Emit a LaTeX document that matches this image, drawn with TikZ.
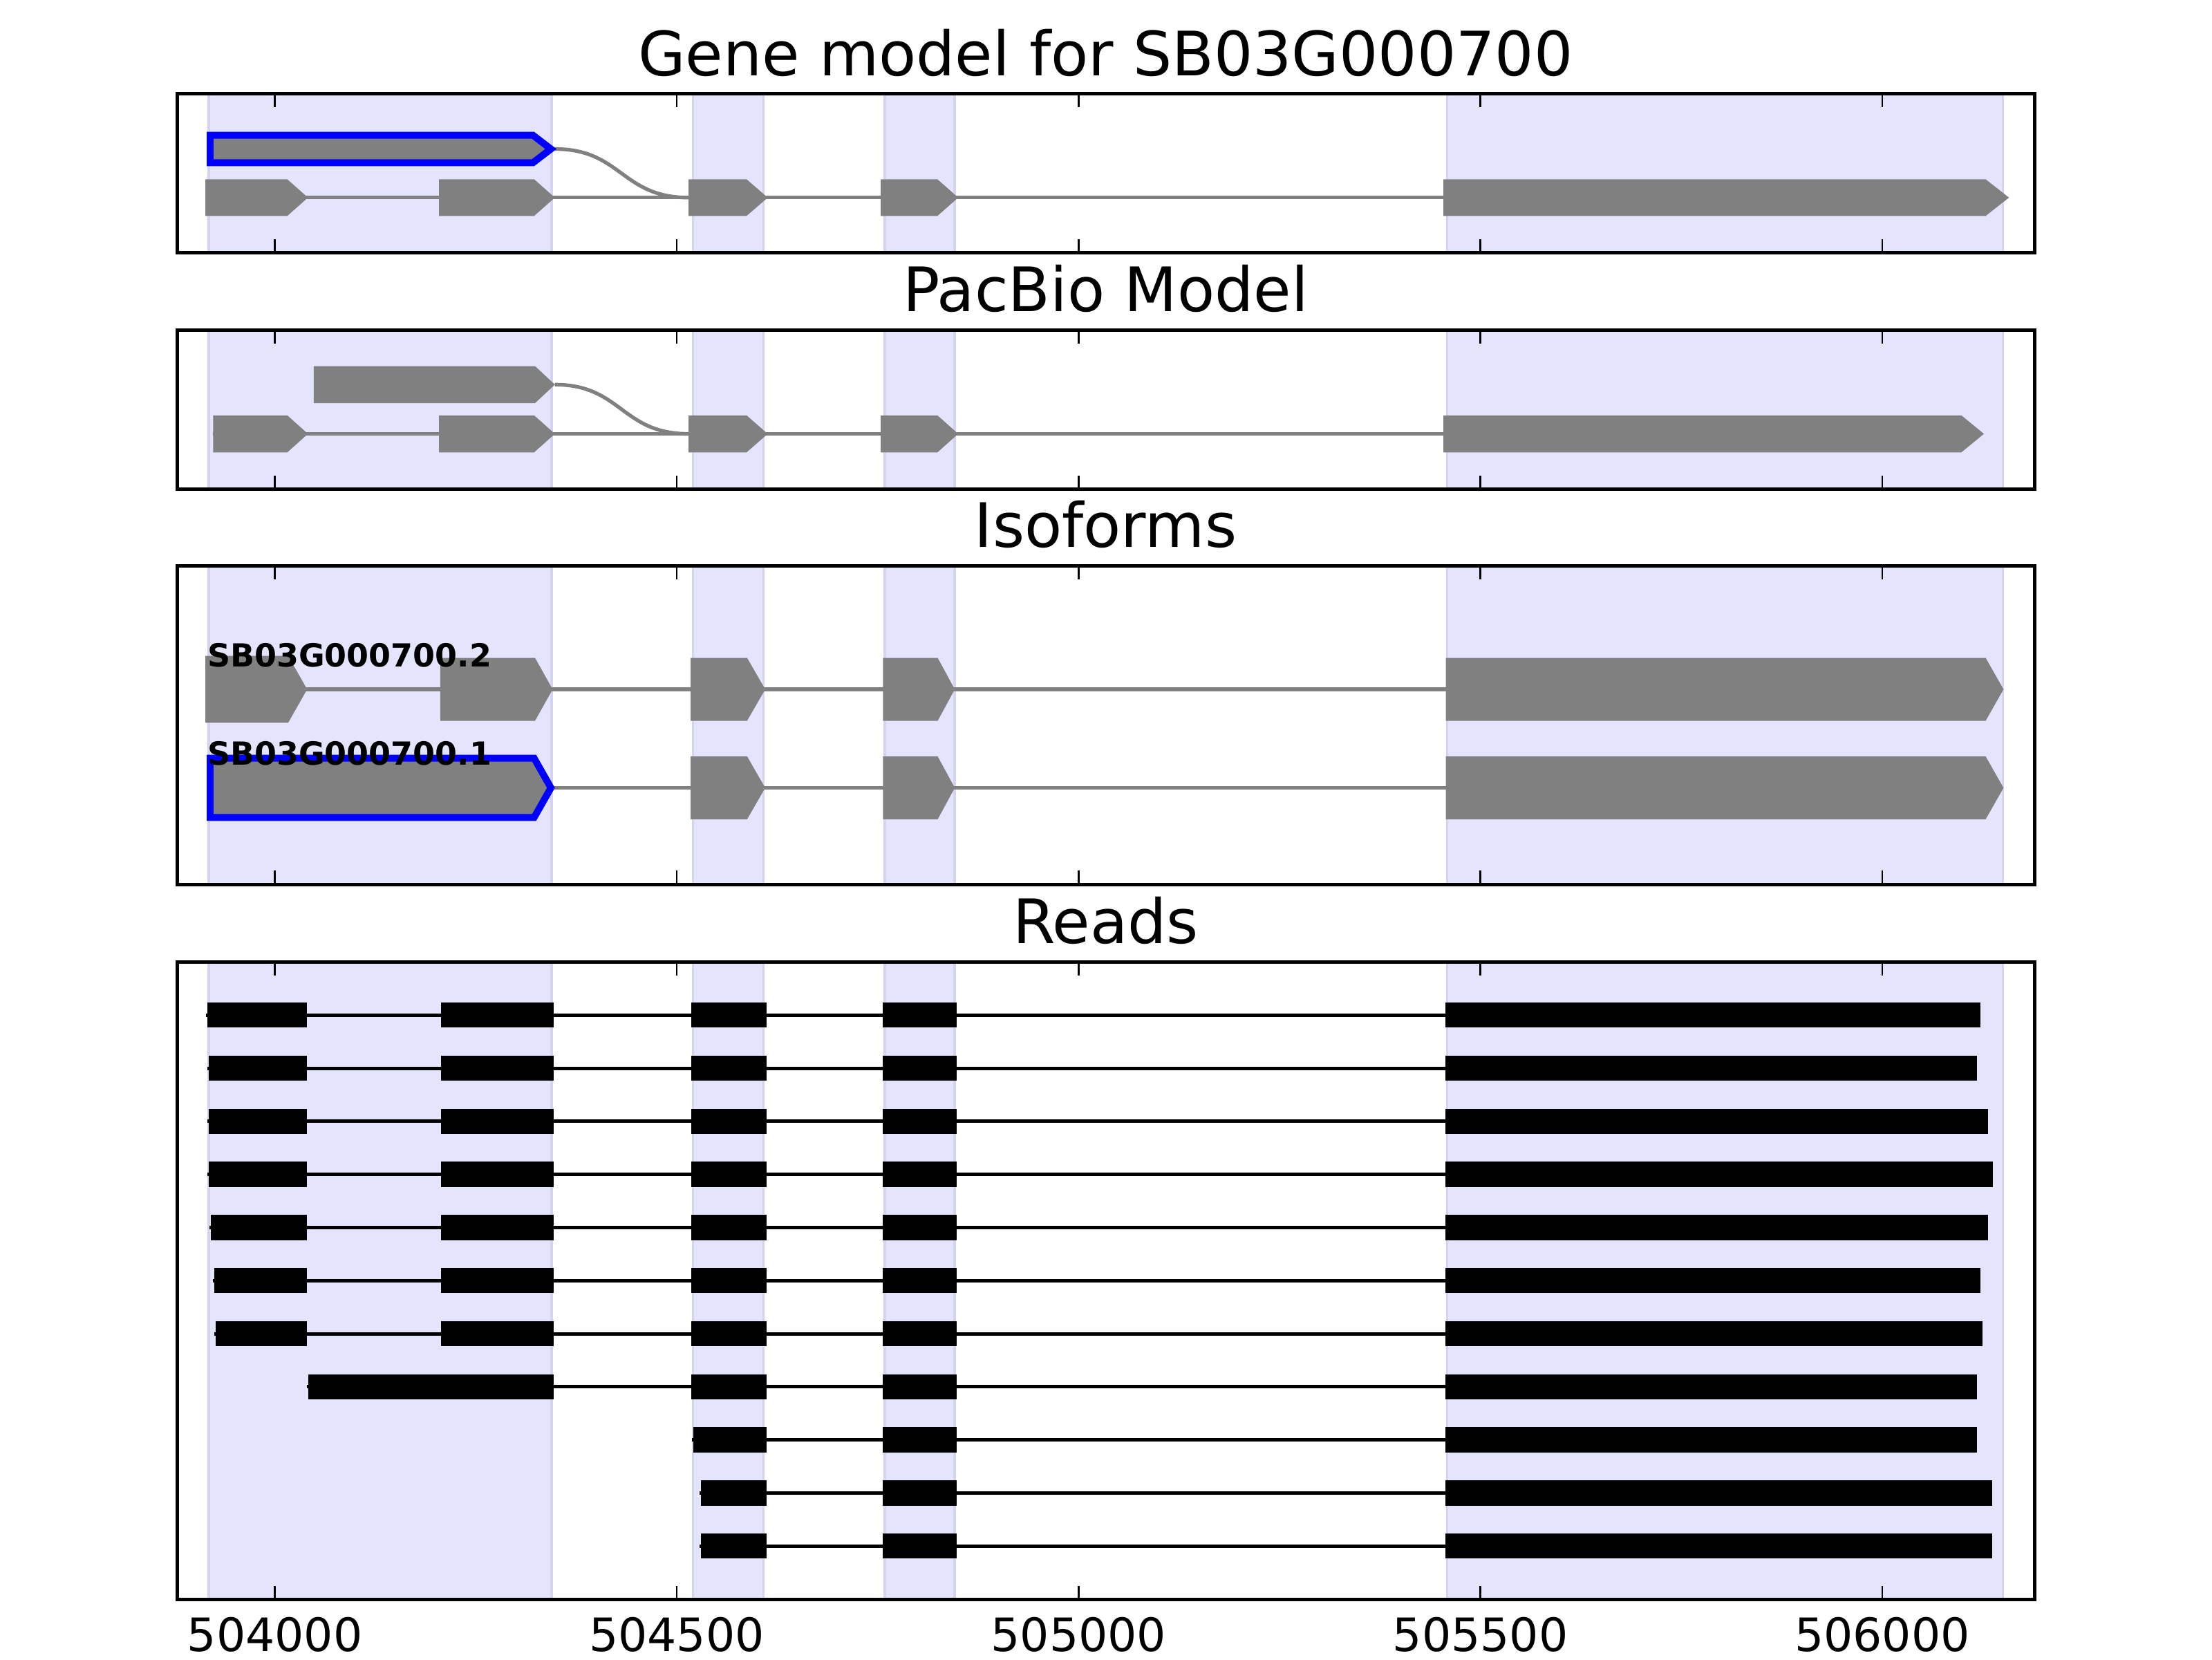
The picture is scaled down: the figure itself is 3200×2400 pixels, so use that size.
\documentclass[tikz,border=0pt]{standalone}
\usepackage{fontspec}
\setmainfont{DejaVu Sans}
\definecolor{exongray}{RGB}{128,128,128}
\definecolor{spanfill}{RGB}{228,228,253}
\definecolor{spanedge}{RGB}{212,212,240}
\definecolor{pureblue}{RGB}{0,0,255}
\newcommand{\gexon}[5]{\fill[exongray] (#1,#4-#5) -- (#2,#4-#5) -- (#3,#4) -- (#2,#4+#5) -- (#1,#4+#5) -- cycle;}
\newcommand{\rbar}[3]{\fill[black] (#1,#3-18.25) rectangle (#2,#3+18.25);}
\newcommand{\spans}[2]{%
  \foreach \a/\b in {302/798, 1002.3/1104.5, 1280/1381, 2093.5/2897}
    {\filldraw[fill=spanfill, draw=spanedge, line width=0.55pt] (\a,#1) rectangle (\b,#2);}}
\newcommand{\panelframe}[2]{%
  \draw[line width=0.9pt] (256.1,#1) rectangle (2943,#2);
  \foreach \t in {397.7, 979.0, 1560.3, 2141.6, 2722.9}
    {\draw[line width=0.45pt] (\t,#1) -- (\t,#1+20) (\t,#2) -- (\t,#2-20);}}
\begin{document}
\begin{tikzpicture}[x=0.00635cm, y=-0.00635cm,
  titletext/.style={anchor=base, inner sep=0pt, font=\fontsize{16}{19}\selectfont},
  ticktext/.style={anchor=base, inner sep=0pt, font=\fontsize{12}{14}\selectfont},
  isotext/.style={anchor=base west, inner sep=0pt, font=\fontsize{8.3}{10}\selectfont\bfseries},
  intron/.style={draw=exongray, line width=0.95pt},
  readline/.style={draw=black, line width=0.9pt},
  blueedge/.style={fill=exongray, draw=pureblue, line width=1.8pt, line join=miter}]
\useasboundingbox (0,0) rectangle (3200,2400);

% ---------------- Panel 1 : Gene model ----------------
\node[titletext] (t1) at (1599.5,109) {Gene model for SB03G000700};
\spans{135.3}{365.9}
\draw[intron] (802.7,215.5) .. controls (899,215.5) and (899,285.8) .. (996,285.8);
\draw[intron] (297,285.8) -- (2088,285.8);
\gexon{297}{415.6}{445.5}{285.8}{26.5}
\gexon{635}{772.7}{802.7}{285.8}{26.5}
\gexon{996}{1080}{1110.7}{285.8}{26.5}
\gexon{1274}{1356.1}{1386.2}{285.8}{26.5}
\gexon{2088}{2872.5}{2906.3}{285.8}{26.5}
\filldraw[blueedge] (304,195.6) -- (771,195.6) -- (797,215.5) -- (771,235.3) -- (304,235.3) -- cycle;
\panelframe{135.3}{365.9}

% ---------------- Panel 2 : PacBio Model ----------------
\node[titletext] (t2) at (1599.5,450.3) {PacBio Model};
\spans{477}{707.5}
\draw[intron] (802.7,556.3) .. controls (899,556.3) and (899,627.5) .. (996,627.5);
\draw[intron] (308.4,627.5) -- (2088,627.5);
\gexon{453.8}{774}{802.7}{556.3}{26.75}
\gexon{308.4}{415.6}{445.5}{627.5}{26.75}
\gexon{635}{772.7}{802.7}{627.5}{26.75}
\gexon{996}{1080}{1110.7}{627.5}{26.75}
\gexon{1274}{1356.1}{1386.2}{627.5}{26.75}
\gexon{2088}{2837.4}{2870}{627.5}{26.75}
\panelframe{477}{707.5}

% ---------------- Panel 3 : Isoforms ----------------
\node[titletext] (t3) at (1599.5,791.5) {Isoforms};
\spans{818}{1279.4}
\draw[intron] (297,997) -- (2091.5,997);
\gexon{297}{416.9}{444.3}{997}{48.3}
\gexon{636.9}{774}{799.5}{997}{45.5}
\gexon{999.2}{1080.8}{1107}{997}{45.5}
\gexon{1277.4}{1356.5}{1381.2}{997}{45.5}
\gexon{2091.5}{2872.5}{2898.4}{997}{45.5}
\draw[intron] (797,1139.5) -- (2091.5,1139.5);
\gexon{999.2}{1080.8}{1107}{1139.5}{45.5}
\gexon{1277.4}{1356.5}{1381.2}{1139.5}{45.5}
\gexon{2091.5}{2872.5}{2898.4}{1139.5}{45.5}
\filldraw[blueedge] (304,1096.7) -- (772.7,1096.7) -- (797,1139.5) -- (772.7,1182.3) -- (304,1182.3) -- cycle;
\node[isotext] (iso2) at (299,964.2) {SB03G000700.2};
\node[isotext] (iso1) at (299,1106) {SB03G000700.1};
\panelframe{818}{1279.4}

% ---------------- Panel 4 : Reads ----------------
\node[titletext] (t4) at (1599.5,1364.5) {Reads};
\spans{1391}{2313.6}
\foreach \s/\e/\y in {299.7/2865/1468.2, 302/2860.1/1545.0, 302/2875.5/1621.8,
                      302/2883.4/1698.6, 305/2876.1/1775.4, 310/2865/1852.2,
                      312.3/2868.1/1929.0}{
  \draw[readline] (\s-2,\y) -- (\e,\y);
  \rbar{\s}{443.6}{\y}
  \rbar{638}{801}{\y}
  \rbar{999.5}{1108.5}{\y}
  \rbar{1277}{1384.2}{\y}
  \rbar{2091.2}{\e}{\y}
}
\draw[readline] (443.6,2005.8) -- (2860.1,2005.8);
\rbar{445.6}{801.4}{2005.8}
\rbar{999.5}{1108.5}{2005.8}
\rbar{1277}{1384.2}{2005.8}
\rbar{2091.2}{2860.1}{2005.8}
\foreach \s/\e/\y in {1003/2860.1/2082.6, 1013.8/2882.2/2159.4, 1013.8/2882.2/2236.2}{
  \draw[readline] (\s-2,\y) -- (\e,\y);
  \rbar{\s}{1108.5}{\y}
  \rbar{1277}{1384.2}{\y}
  \rbar{2091.2}{\e}{\y}
}
\panelframe{1391}{2313.6}

% tick labels
\node[ticktext] (l1) at (397.7,2388) {504000};
\node[ticktext] (l2) at (979.0,2388) {504500};
\node[ticktext] (l3) at (1560.3,2388) {505000};
\node[ticktext] (l4) at (2141.6,2388) {505500};
\node[ticktext] (l5) at (2722.9,2388) {506000};
\end{tikzpicture}
\end{document}
